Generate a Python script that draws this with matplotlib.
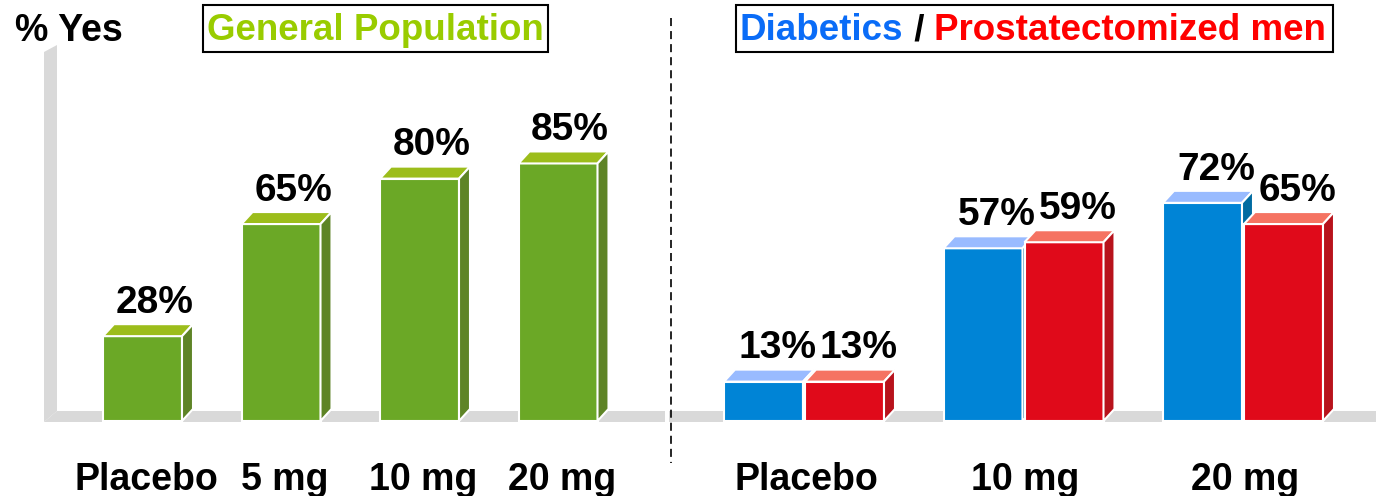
import matplotlib
matplotlib.use("Agg")
import matplotlib.pyplot as plt
from matplotlib.patches import Polygon, Rectangle

plt.rcParams['font.family'] = ['Liberation Sans', 'DejaVu Sans']
plt.rcParams['lines.scale_dashes'] = False

# ---- data ----
gp_labels = ['Placebo', '5 mg', '10 mg', '20 mg']
gp_values = [28, 65, 80, 85]

dose_labels = ['Placebo', '10 mg', '20 mg']
diabetics_values = [13, 57, 72]
prostatectomy_values = [13, 59, 65]

# ---- colours ----
GREEN = ('#6BA826', '#9CBD1B', '#5E8426')   # front, top, side
BLUE = ('#0084D6', '#99BBFF', '#006BA1')
RED = ('#E00A1A', '#F57362', '#B8121C')
FLOOR = '#D9D9D9'

# ---- layout (x in pixels, y in percent) ----
PX_PER_PCT = 3.03
BASE_PX = 421
W, H = 1376, 496
DX = 11            # depth offset along x
DY = 12 / PX_PER_PCT   # depth offset along y
BAR_W = 79

fig = plt.figure(figsize=(W / 100, H / 100), dpi=100)
ax = fig.add_axes([0, 0, 1, 1])
ax.set_xlim(0, W)
ax.set_ylim(-(H - BASE_PX) / PX_PER_PCT, BASE_PX / PX_PER_PCT)
ax.axis('off')


def py(p):
    # pixel row from top -> y value
    return (BASE_PX - p) / PX_PER_PCT


def box3d(x, h, cols, z):
    front, top, side = cols
    ax.bar(x, h, width=BAR_W, align='edge', color=front,
           edgecolor='white', linewidth=1.5, zorder=z)
    ax.add_patch(Polygon([(x, h), (x + DX, h + DY), (x + BAR_W + DX, h + DY), (x + BAR_W, h)],
                         closed=True, fc=top, ec='white', lw=1.5, zorder=z))
    ax.add_patch(Polygon([(x + BAR_W, 0), (x + BAR_W, h), (x + BAR_W + DX, h + DY), (x + BAR_W + DX, DY)],
                         closed=True, fc=side, ec='white', lw=1.5, zorder=z))


# floor and back wall
ax.add_patch(Polygon([(44, py(422)), (57, py(411)), (665, py(411)), (665, py(422))],
                     closed=True, fc=FLOOR, ec='none', zorder=1))
ax.add_patch(Polygon([(44, py(422)), (44, py(52)), (57, py(45)), (57, py(411))],
                     closed=True, fc=FLOOR, ec='none', zorder=1))
ax.add_patch(Polygon([(669, py(422)), (669, py(411)), (W, py(411)), (W, py(422))],
                     closed=True, fc=FLOOR, ec='none', zorder=1))

label_kw = dict(fontsize=28, fontweight='bold', ha='center', va='center', color='black')
cat_kw = dict(fontsize=27, fontweight='bold', ha='center', va='center', color='black')

# left panel: general population
gp_x0, gp_step = 103, 138.5
for i, (lab, v) in enumerate(zip(gp_labels, gp_values)):
    x = gp_x0 + i * gp_step
    box3d(x, v, GREEN, 2 + i)
    ax.text(x + BAR_W / 2 + 12, v + 11, f'{v}%', zorder=10, **label_kw)
    ax.text(x + BAR_W / 2 + 4, py(480), lab, **cat_kw)

# right panel: diabetics / prostatectomized men
rt_x0, rt_step, pair_gap = 724, 219.5, 81
for i, (lab, vb, vr) in enumerate(zip(dose_labels, diabetics_values, prostatectomy_values)):
    xb = rt_x0 + i * rt_step
    xr = xb + pair_gap
    box3d(xb, vb, BLUE, 10 + 2 * i)
    box3d(xr, vr, RED, 11 + 2 * i)
    ax.text(xb + BAR_W / 2 + 14, vb + 11, f'{vb}%', zorder=20, **label_kw)
    ax.text(xr + BAR_W / 2 + 14, vr + 11, f'{vr}%', zorder=20, **label_kw)
    ax.text((xb + xr + BAR_W) / 2 + 2, py(480), lab, **cat_kw)

# divider
ax.plot([671, 671], [py(18), py(463)], color='black', lw=1.2,
        dashes=(5.8, 3.6), zorder=5)

# headings
ax.text(15, py(31), '% Yes', fontsize=27, fontweight='bold', ha='left', va='center')

ax.add_patch(Rectangle((203, py(52)), 345, py(5) - py(52), fc='white', ec='black', lw=1.5, zorder=5))
ax.text(375.5, py(31), 'General Population', fontsize=26.5, fontweight='bold',
        color='#99CC00', ha='center', va='center', zorder=6)

ax.add_patch(Rectangle((736, py(52)), 597, py(5) - py(52), fc='white', ec='black', lw=1.5, zorder=5))
t1 = ax.text(740, py(31), 'Diabetics', fontsize=26.5, fontweight='bold',
             color='#0A6CF7', ha='left', va='center', zorder=6)
t2 = ax.annotate(' / ', xycoords=t1, xy=(1, 0), va='bottom', fontsize=26.5,
                 fontweight='bold', color='black', zorder=6)
ax.annotate('Prostatectomized men', xycoords=t2, xy=(1, 0), va='bottom', fontsize=26.5,
            fontweight='bold', color='#FF0000', zorder=6)

fig.savefig('out.png', dpi=100)
